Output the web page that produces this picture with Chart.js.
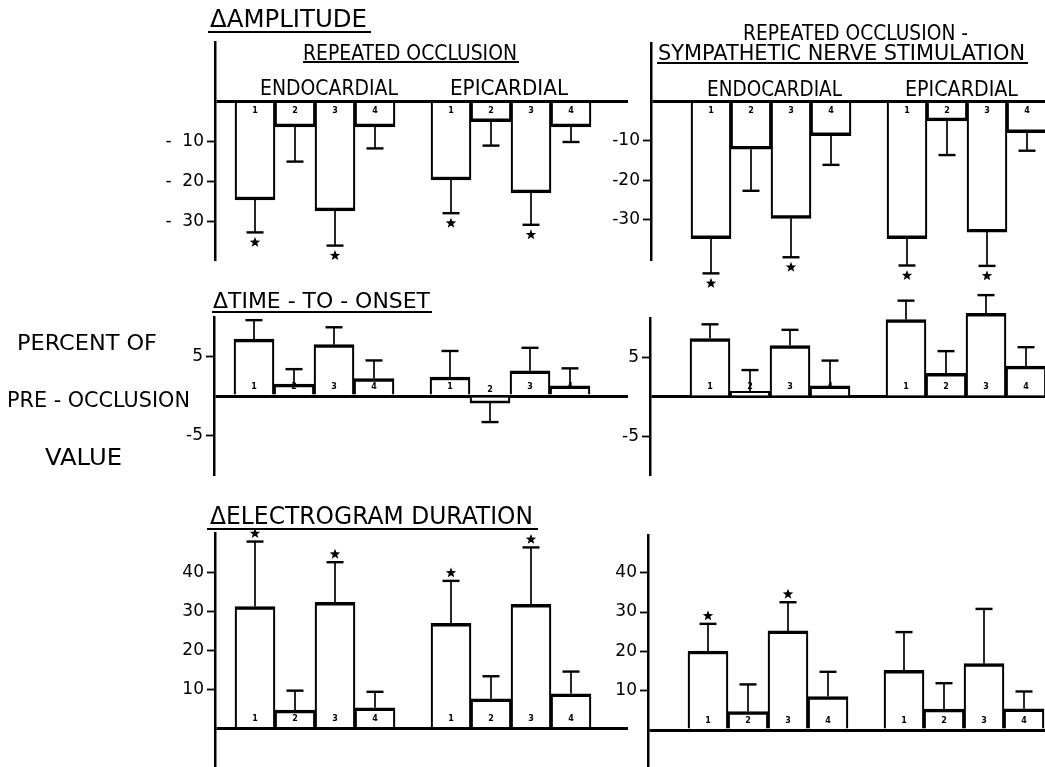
<!DOCTYPE html>
<html><head><meta charset="utf-8">
<script src="https://cdn.jsdelivr.net/npm/chart.js@4/dist/chart.umd.min.js"></script>
<style>
html,body{margin:0;padding:0;background:#fff;}
body{width:1045px;height:767px;overflow:hidden;position:relative;font-family:"DejaVu Sans",sans-serif;}
canvas{position:absolute;}
.t{position:absolute;white-space:nowrap;color:#000;transform-origin:0 0;line-height:1;font-family:"DejaVu Sans",sans-serif;}
.u{position:absolute;background:#000;height:2px;}
</style></head><body>
<script>
// ---------- DATA ----------
const barNumbers = ['1', '2', '3', '4'];
const groupNames = ['ENDOCARDIAL', 'EPICARDIAL'];

// Δ Amplitude — repeated occlusion
const ampRO_endo    = [-24.6, -6.3, -27.3, -6.3];
const ampRO_endoSem = [8.1, 8.7, 8.7, 5.4];
const ampRO_epi     = [-19.6, -5.0, -22.8, -6.3];
const ampRO_epiSem  = [8.3, 6.0, 8.0, 3.8];
// Δ Amplitude — repeated occlusion + sympathetic nerve stimulation
const ampSNS_endo    = [-34.9, -12.1, -29.7, -8.7];
const ampSNS_endoSem = [8.8, 10.6, 9.9, 7.4];
const ampSNS_epi     = [-34.9, -4.9, -33.2, -7.9];
const ampSNS_epiSem  = [6.8, 8.7, 8.6, 4.6];

// Δ Time-to-onset
const tonRO_endo    = [7.2, 1.5, 6.5, 2.2];
const tonRO_endoSem = [2.4, 1.9, 2.2, 2.3];
const tonRO_epi     = [2.4, -0.9, 3.2, 1.3];
const tonRO_epiSem  = [3.3, 2.4, 2.9, 2.2];
const tonSNS_endo    = [7.4, 0.7, 6.5, 1.4];
const tonSNS_endoSem = [1.8, 2.7, 2.0, 3.2];
const tonSNS_epi     = [9.8, 3.0, 10.6, 3.9];
const tonSNS_epiSem  = [2.4, 2.8, 2.3, 2.4];

// Δ Electrogram duration
const egdRO_endo    = [31.3, 4.7, 32.4, 5.3];
const egdRO_endoSem = [16.7, 5.0, 10.3, 4.1];
const egdRO_epi     = [27.0, 7.6, 31.9, 8.9];
const egdRO_epiSem  = [10.9, 5.8, 14.6, 5.7];
const egdSNS_endo    = [20.1, 4.7, 25.2, 8.5];
const egdSNS_endoSem = [6.9, 6.9, 7.3, 6.3];
const egdSNS_epi     = [15.2, 5.3, 16.9, 5.4];
const egdSNS_epiSem  = [9.7, 6.6, 13.9, 4.4];

// significance stars (endo bars 1-4, epi bars 1-4)
const ampRO_stars  = [1, 0, 1, 0, 1, 0, 1, 0];
const ampSNS_stars = [1, 0, 1, 0, 1, 0, 1, 0];
const tonRO_stars  = [0, 0, 0, 0, 0, 0, 0, 0];
const tonSNS_stars = [0, 0, 0, 0, 0, 0, 0, 0];
const egdRO_stars  = [1, 0, 1, 0, 1, 0, 1, 0];
const egdSNS_stars = [1, 0, 1, 0, 0, 0, 0, 0];

// tick values and labels
const ampTicks = [-30, -20, -10, 0];
const ampTickLabelsRO = ['-  30', '-  20', '-  10', ''];
const ampTickLabelsSNS = ['-30', '-20', '-10', ''];
const tonTicks = [-5, 0, 5];
const tonTickLabels = ['-5', '', '5'];
const egdTicks = [0, 10, 20, 30, 40];
const egdTickLabels = ['', '10', '20', '30', '40'];

// ---------- LAYOUT ----------
const SLOT = 40;          // px per bar slot
const EPI_SHIFT = 4.9;    // slot offset of the epicardial group
const Y_AXIS_W = 110, PAD_T = 45, PAD_B = 45;

const panels = [
  {axisX:215, right:628, top:42,  bottom:260, ymin:-39.6, ymax:14.9, xmin:0,
   endo:ampRO_endo, endoSem:ampRO_endoSem, epi:ampRO_epi, epiSem:ampRO_epiSem, stars:ampRO_stars,
   ticks:ampTicks, tickLabels:ampTickLabelsRO, numDir:1},
  {axisX:651, right:1045, top:43, bottom:260, ymin:-40.3, ymax:14.9, xmin:-0.5,
   endo:ampSNS_endo, endoSem:ampSNS_endoSem, epi:ampSNS_epi, epiSem:ampSNS_epiSem, stars:ampSNS_stars,
   ticks:ampTicks, tickLabels:ampTickLabelsSNS, numDir:1},
  {axisX:214, right:628, top:317, bottom:475, ymin:-10, ymax:10, xmin:0,
   endo:tonRO_endo, endoSem:tonRO_endoSem, epi:tonRO_epi, epiSem:tonRO_epiSem, stars:tonRO_stars,
   ticks:tonTicks, tickLabels:tonTickLabels, numDir:-1},
  {axisX:650, right:1045, top:318, bottom:475, ymin:-9.9, ymax:10, xmin:-0.5,
   endo:tonSNS_endo, endoSem:tonSNS_endoSem, epi:tonSNS_epi, epiSem:tonSNS_epiSem, stars:tonSNS_stars,
   ticks:tonTicks, tickLabels:tonTickLabels, numDir:-1},
  {axisX:215, right:628, top:533, bottom:765, ymin:-9.4, ymax:50.2, xmin:0,
   endo:egdRO_endo, endoSem:egdRO_endoSem, epi:egdRO_epi, epiSem:egdRO_epiSem, stars:egdRO_stars,
   ticks:egdTicks, tickLabels:egdTickLabels, numDir:-1},
  {axisX:648, right:1045, top:535, bottom:765, ymin:-8.9, ymax:49.6, xmin:-0.5,
   endo:egdSNS_endo, endoSem:egdSNS_endoSem, epi:egdSNS_epi, epiSem:egdSNS_epiSem, stars:egdSNS_stars,
   ticks:egdTicks, tickLabels:egdTickLabels, numDir:-1}
];

function drawStar(ctx, cx, cy, R) {
  const r = R * 0.42;
  ctx.beginPath();
  for (let i = 0; i < 10; i++) {
    const rad = i % 2 === 0 ? R : r;
    const a = -Math.PI / 2 + i * Math.PI / 5;
    const px = cx + rad * Math.cos(a), py = cy + rad * Math.sin(a);
    i === 0 ? ctx.moveTo(px, py) : ctx.lineTo(px, py);
  }
  ctx.closePath();
  ctx.fill();
}

const decor = {
  id: 'decor',
  afterDatasetsDraw(chart) {
    const o = chart.options.plugins.decor;
    const meta = chart.getDatasetMeta(0);
    const ys = chart.scales.y;
    const ctx = chart.ctx;
    const data = chart.data.datasets[0].data;
    ctx.save();
    ctx.fillStyle = '#000';
    ctx.strokeStyle = '#000';
    meta.data.forEach((bar, k) => {
      const v = data[k].y;
      const s = v >= 0 ? 1 : -1;
      const endPx = ys.getPixelForValue(v + s * o.sem[k]);
      const x = bar.x;
      ctx.lineWidth = 1.7;
      ctx.beginPath(); ctx.moveTo(x, bar.y); ctx.lineTo(x, endPx); ctx.stroke();
      ctx.lineWidth = 2.4;
      ctx.beginPath(); ctx.moveTo(x - 8.5, endPx); ctx.lineTo(x + 8.5, endPx); ctx.stroke();
      if (o.stars[k]) drawStar(ctx, x, endPx - s * (s > 0 ? 8 : 10), 5.5);
      ctx.font = 'bold 8px "DejaVu Sans"';
      ctx.textAlign = 'center';
      ctx.textBaseline = 'middle';
      ctx.fillText(o.nums[k], x, bar.base + o.numDir * 8);
    });
    ctx.restore();
  }
};

panels.forEach(p => {
  const xs = [], pts = [], sem = [], nums = [];
  [[p.endo, p.endoSem], [p.epi, p.epiSem]].forEach(([vals, errs], g) => {
    vals.forEach((v, i) => {
      const x = i + 1 + g * EPI_SHIFT;
      xs.push(x);
      pts.push({x: x, y: v});
      sem.push(errs[i]);
      nums.push(barNumbers[i]);
    });
  });
  const left = p.axisX - Y_AXIS_W, top = p.top - PAD_T;
  const width = p.right - left, height = p.bottom - p.top + PAD_T + PAD_B;
  const c = document.createElement('canvas');
  c.width = width; c.height = height;
  Object.assign(c.style, {left: left + 'px', top: top + 'px', width: width + 'px', height: height + 'px'});
  document.body.appendChild(c);
  const isZero = ctx => ctx.tick && ctx.tick.value === 0;
  new Chart(c, {
    type: 'bar',
    data: {datasets: [{
      data: pts,
      backgroundColor: '#fff',
      borderColor: '#000',
      borderWidth: {top: 3.5, bottom: 3.5, left: 2.2, right: 2.2},
      borderSkipped: 'start',
      barPercentage: 1,
      categoryPercentage: 1,
      clip: false
    }]},
    options: {
      responsive: false,
      animation: false,
      devicePixelRatio: 1,
      layout: {padding: {top: PAD_T, bottom: PAD_B, left: 0, right: 0}},
      plugins: {
        legend: {display: false},
        tooltip: {enabled: false},
        decor: {sem: sem, stars: p.stars, nums: nums, numDir: p.numDir}
      },
      scales: {
        x: {
          type: 'linear', display: false, offset: false,
          min: p.xmin, max: p.xmin + (p.right - p.axisX) / SLOT,
          afterBuildTicks: s => { s.ticks = xs.map(v => ({value: v})); }
        },
        y: {
          type: 'linear', min: p.ymin, max: p.ymax, z: 1,
          afterBuildTicks: s => { s.ticks = p.ticks.map(v => ({value: v})); },
          afterFit: s => { s.width = Y_AXIS_W; s.paddingTop = 0; s.paddingBottom = 0; },
          ticks: {
            color: '#000', padding: 3,
            font: {family: '"DejaVu Sans"', size: 17},
            callback: (val, idx) => p.tickLabels[idx]
          },
          grid: {
            drawTicks: true, tickLength: 8,
            color: ctx => isZero(ctx) ? '#000' : 'rgba(0,0,0,0)',
            lineWidth: ctx => isZero(ctx) ? 3 : 1,
            tickColor: ctx => isZero(ctx) ? 'rgba(0,0,0,0)' : '#000',
            tickWidth: 1.8
          },
          border: {display: true, color: '#000', width: 2.5}
        }
      }
    },
    plugins: [decor]
  });
});

// ---------- TEXT ----------
function addText(txt, x, capTop, w, capH) {
  const fs = capH / 0.729;
  const d = document.createElement('div');
  d.className = 't';
  d.textContent = txt;
  d.style.fontSize = fs + 'px';
  d.style.left = x + 'px';
  d.style.top = (capTop - 0.117 * fs) + 'px';
  document.body.appendChild(d);
  const actual = d.getBoundingClientRect().width;
  d.style.transform = 'scaleX(' + (w / actual) + ')';
}
function addLine(x1, x2, y) {
  const d = document.createElement('div');
  d.className = 'u';
  Object.assign(d.style, {left: x1 + 'px', top: (y - 1) + 'px', width: (x2 - x1) + 'px'});
  document.body.appendChild(d);
}
addText('\u0394AMPLITUDE', 210, 10, 157, 18);            addLine(208, 371, 32);
addText('REPEATED OCCLUSION', 303, 45, 214, 15);         addLine(303, 519, 62);
addText(groupNames[0], 260, 80, 138, 15);
addText(groupNames[1], 450, 80, 118, 15);
addText('REPEATED OCCLUSION -', 743, 25, 225, 15);
addText('SYMPATHETIC NERVE STIMULATION', 658, 45, 367, 15); addLine(657, 1028, 63);
addText(groupNames[0], 707, 81, 135, 15);
addText(groupNames[1], 905, 81, 113, 15);
addText('\u0394TIME - TO - ONSET', 213, 293, 217, 15);    addLine(212, 432, 312);
addText('\u0394ELECTROGRAM DURATION', 210, 507, 323, 18); addLine(207, 538, 529);
addText('PERCENT OF', 17, 335, 140, 15);
addText('PRE - OCCLUSION', 7, 392, 183, 16);
addText('VALUE', 45, 448, 77, 17);
</script>
</body></html>
